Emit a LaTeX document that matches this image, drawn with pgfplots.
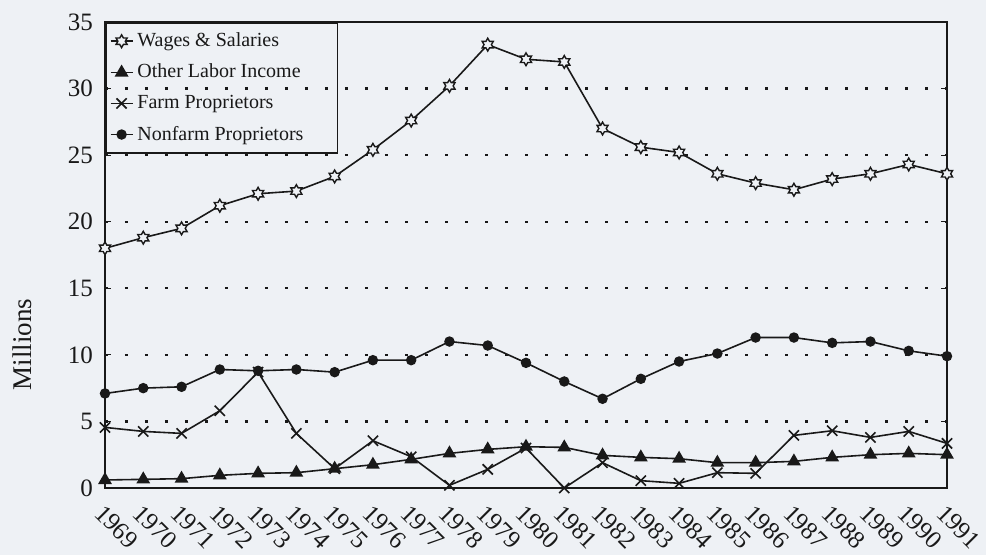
\documentclass[border=0pt]{standalone}
\usepackage{fontspec}
\setmainfont{Liberation Serif}
\usepackage{pgfplots}
\pgfplotsset{compat=1.18}
\usetikzlibrary{backgrounds}
\definecolor{bg}{RGB}{238,241,245}
\definecolor{ink}{RGB}{25,25,25}

\pgfdeclareplotmark{hexstar}{%
  \pgfpathmoveto{\pgfpointpolar{90}{\pgfplotmarksize}}%
  \pgfpathlineto{\pgfpointpolar{120}{0.577*\pgfplotmarksize}}%
  \pgfpathlineto{\pgfpointpolar{150}{\pgfplotmarksize}}%
  \pgfpathlineto{\pgfpointpolar{180}{0.577*\pgfplotmarksize}}%
  \pgfpathlineto{\pgfpointpolar{210}{\pgfplotmarksize}}%
  \pgfpathlineto{\pgfpointpolar{240}{0.577*\pgfplotmarksize}}%
  \pgfpathlineto{\pgfpointpolar{270}{\pgfplotmarksize}}%
  \pgfpathlineto{\pgfpointpolar{300}{0.577*\pgfplotmarksize}}%
  \pgfpathlineto{\pgfpointpolar{330}{\pgfplotmarksize}}%
  \pgfpathlineto{\pgfpointpolar{0}{0.577*\pgfplotmarksize}}%
  \pgfpathlineto{\pgfpointpolar{30}{\pgfplotmarksize}}%
  \pgfpathlineto{\pgfpointpolar{60}{0.577*\pgfplotmarksize}}%
  \pgfpathclose
  \pgfusepathqfillstroke}

\begin{document}
\begin{tikzpicture}
\useasboundingbox (-52.5pt,-33.5pt) rectangle (440.5pt,244pt);
\begin{axis}[
  at={(0,0)}, anchor=south west,
  scale only axis,
  width=421pt, height=233pt,
  xmin=1969, xmax=1991,
  ymin=0, ymax=35,
  xtick={1969,...,1991},
  xticklabels={1969,1970,1971,1972,1973,1974,1975,1976,1977,1978,1979,1980,1981,1982,1983,1984,1985,1986,1987,1988,1989,1990,1991},
  ytick={0,5,...,35},
  yticklabels={0,5,10,15,20,25,30,35},
  xtick style={draw=none},
  ytick style={ink, line width=0.6pt},
  major tick length=3pt,
  tick align=inside,
  ymajorgrids,
  grid style={ink, line width=1.1pt, dash pattern=on 1.3pt off 8.7pt},
  axis line style={ink, line width=0.9pt},
  tick label style={font=\fontsize{12.5}{14}\selectfont, text=ink},
  xticklabel style={xshift=0pt, yshift=-6pt, rotate=-45, anchor=north west, inner sep=1pt},
  yticklabel style={xshift=-2.5pt},
  ylabel={Millions},
  every axis y label/.style={at={(axis description cs:-0.098,0.308)}, rotate=90, anchor=center,
    font=\fontsize{13.5}{16}\selectfont, text=ink},
  legend cell align=left,
  legend style={at={(axis description cs:0,1)}, anchor=north west, draw=ink, line width=0.8pt, fill=none,
    font=\fontsize{10}{12}\selectfont, text=ink, row sep=3.2pt, inner xsep=2pt, inner ysep=3pt},
  legend image code/.code={\draw[#1,mark=none] (0pt,0pt) -- (11pt,0pt); \draw[#1, only marks] plot coordinates {(5.5pt,0pt)};},
  every axis plot/.append style={ink, line width=0.8pt, mark options={solid}},
]
\addplot[mark=hexstar, mark size=3.2pt, mark options={fill=bg, draw=ink, line width=0.7pt}] coordinates {
(1969,18.0) (1970,18.8) (1971,19.5) (1972,21.2) (1973,22.1) (1974,22.3) (1975,23.4) (1976,25.4)
(1977,27.6) (1978,30.2) (1979,33.3) (1980,32.2) (1981,32.0) (1982,27.0) (1983,25.6) (1984,25.2)
(1985,23.6) (1986,22.9) (1987,22.4) (1988,23.2) (1989,23.6) (1990,24.3) (1991,23.6)};
\addlegendentry{\makebox[96pt][l]{Wages \& Salaries}}
\addplot[mark=triangle*, mark size=3.2pt, mark options={fill=ink}] coordinates {
(1969,0.6) (1970,0.65) (1971,0.7) (1972,0.95) (1973,1.1) (1974,1.15) (1975,1.45) (1976,1.75)
(1977,2.15) (1978,2.6) (1979,2.9) (1980,3.1) (1981,3.05) (1982,2.45) (1983,2.3) (1984,2.2)
(1985,1.9) (1986,1.9) (1987,2.0) (1988,2.3) (1989,2.5) (1990,2.6) (1991,2.5)};
\addlegendentry{Other Labor Income}
\addplot[mark=x, mark size=3.6pt] coordinates {
(1969,4.55) (1970,4.25) (1971,4.1) (1972,5.8) (1973,8.7) (1974,4.1) (1975,1.45) (1976,3.55)
(1977,2.35) (1978,0.2) (1979,1.4) (1980,3.0) (1981,0.0) (1982,1.9) (1983,0.55) (1984,0.35)
(1985,1.15) (1986,1.1) (1987,3.95) (1988,4.3) (1989,3.8) (1990,4.25) (1991,3.35)};
\addlegendentry{Farm Proprietors}
\addplot[mark=*, mark size=2.2pt, mark options={fill=ink}] coordinates {
(1969,7.1) (1970,7.5) (1971,7.6) (1972,8.9) (1973,8.8) (1974,8.9) (1975,8.7) (1976,9.6)
(1977,9.6) (1978,11.0) (1979,10.7) (1980,9.4) (1981,8.0) (1982,6.7) (1983,8.2) (1984,9.5)
(1985,10.1) (1986,11.3) (1987,11.3) (1988,10.9) (1989,11.0) (1990,10.3) (1991,9.9)};
\addlegendentry{Nonfarm Proprietors}
\end{axis}
\begin{scope}[on background layer]
\fill[bg] (-52.5pt,-33.5pt) rectangle (440.5pt,244pt);
\end{scope}
\end{tikzpicture}
\end{document}
